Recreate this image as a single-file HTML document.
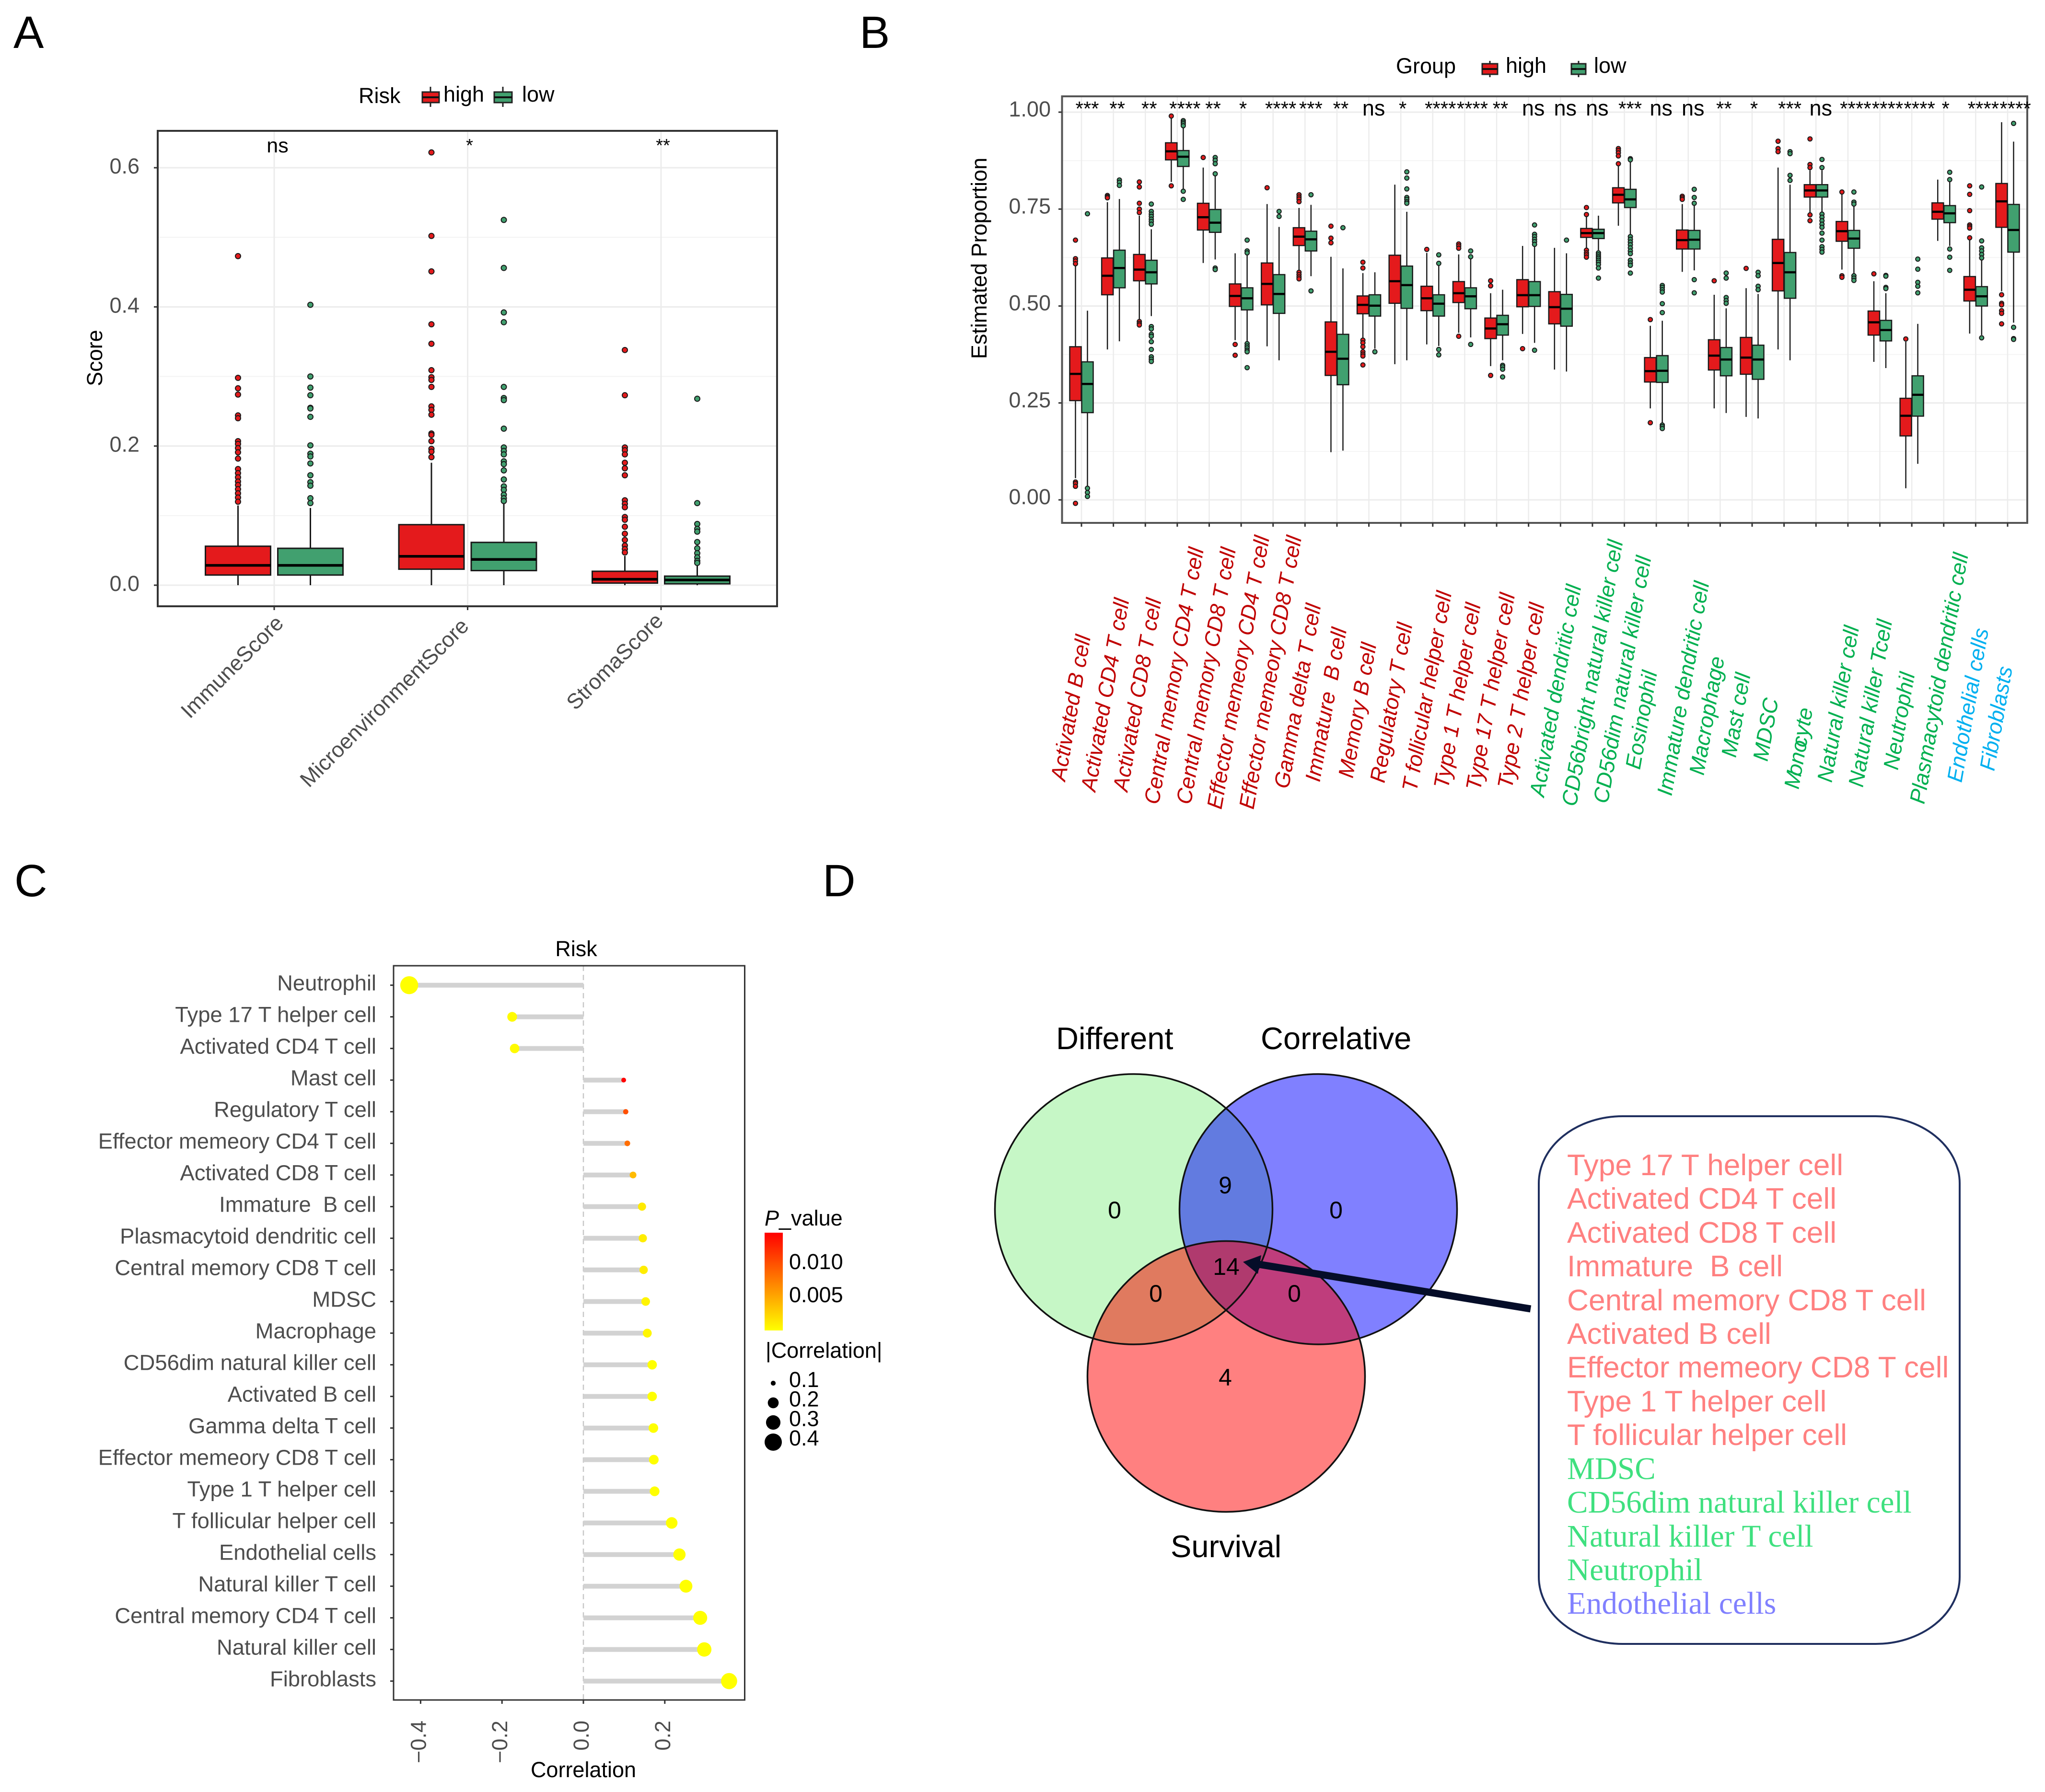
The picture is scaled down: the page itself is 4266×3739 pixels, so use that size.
<!DOCTYPE html>
<html lang="en">
<head>
<meta charset="utf-8">
<title>Immune infiltration figure</title>
<style>
html,body{margin:0;padding:0;background:#fff;}
svg{display:block;font-family:"Liberation Sans",Arial,sans-serif;}
text{white-space:pre;}
.tick{font-size:45px;fill:#4d4d4d;}
.ctick{font-size:45.4px;fill:#4d4d4d;}
.ttl{font-size:45px;fill:#000;}
.letter{font-size:95px;fill:#000;}
.lab{font-size:45px;font-style:italic;}
.r{fill:#c00000;}.g{fill:#00b050;}.b{fill:#00b0f0;}
.vn{font-size:65px;fill:#000;}
.vc{font-size:50px;fill:#000;text-anchor:middle;}
.ls{font-size:62.3px;fill:#ff8080;}
.lg{font-size:65.2px;fill:#3fe07f;font-family:"Liberation Serif",serif;}
.lb{font-size:65.2px;fill:#8080ff;font-family:"Liberation Serif",serif;}
</style>
</head>
<body>
<svg id="fig" xmlns="http://www.w3.org/2000/svg" width="4266" height="3739" viewBox="0 0 4266 3739">
<defs>
<linearGradient id="pgrad" x1="0" y1="1" x2="0" y2="0"><stop offset="0" stop-color="#ffff00"/><stop offset="1" stop-color="#ff0000"/></linearGradient>
<clipPath id="clipDiff"><ellipse cx="2365" cy="2523" rx="289.5" ry="282"/></clipPath>
<clipPath id="clipCorr"><ellipse cx="2750" cy="2523" rx="289.5" ry="282"/></clipPath>
</defs>
<rect width="4266" height="3739" fill="#fff"/>

<text class="letter" x="28" y="100">A</text>
<text class="letter" x="1793" y="100">B</text>
<text class="letter" x="30" y="1870">C</text>
<text class="letter" x="1716" y="1870">D</text>

<g id="panelA">
  <g id="aGrid"></g>
  <g id="aMarks"></g>
  <rect x="329" y="273" width="1292" height="992" fill="none" stroke="#333" stroke-width="4"/>
  <g id="aAxes"></g>
  <text class="ttl" transform="translate(213,747) rotate(-90)" text-anchor="middle">Score</text>
  <g>
    <text class="ttl" x="748" y="215">Risk</text>
    <line x1="898" y1="181" x2="898" y2="223" stroke="#222" stroke-width="3"/>
    <rect x="881" y="192" width="35" height="22" fill="#e41a1c" stroke="#222" stroke-width="3"/>
    <line x1="881" y1="203" x2="916" y2="203" stroke="#111" stroke-width="4"/>
    <text class="ttl" x="925" y="212">high</text>
    <line x1="1049" y1="181" x2="1049" y2="223" stroke="#222" stroke-width="3"/>
    <rect x="1031" y="192" width="37" height="22" fill="#41a06f" stroke="#222" stroke-width="3"/>
    <line x1="1031" y1="203" x2="1068" y2="203" stroke="#111" stroke-width="4"/>
    <text class="ttl" x="1089" y="212">low</text>
  </g>
</g>

<g id="panelB">
  <g id="bGrid"></g>
  <g id="bMarks"></g>
  <rect x="2215.5" y="201" width="2013.5" height="890" fill="none" stroke="#555" stroke-width="4"/>
  <g id="bAxes"></g>
  <text class="ttl" transform="translate(2058,539) rotate(-90)" text-anchor="middle">Estimated Proportion</text>
  <g>
    <text class="ttl" x="2912" y="153">Group</text>
    <line x1="3108" y1="127" x2="3108" y2="161" stroke="#222" stroke-width="3"/>
    <rect x="3092" y="133" width="32" height="22" fill="#e41a1c" stroke="#222" stroke-width="3"/>
    <line x1="3092" y1="144" x2="3124" y2="144" stroke="#111" stroke-width="4"/>
    <text class="ttl" x="3141" y="152">high</text>
    <line x1="3293" y1="127" x2="3293" y2="161" stroke="#222" stroke-width="3"/>
    <rect x="3278" y="133" width="30" height="22" fill="#41a06f" stroke="#222" stroke-width="3"/>
    <line x1="3278" y1="144" x2="3308" y2="144" stroke="#111" stroke-width="4"/>
    <text class="ttl" x="3325" y="152">low</text>
  </g>
  <g>
    <text class="lab r" transform="translate(2222,1631) rotate(-80)">Activated B cell</text>
    <text class="lab r" transform="translate(2285,1653) rotate(-80)">Activated CD4 T cell</text>
    <text class="lab r" transform="translate(2352,1653) rotate(-80)">Activated CD8 T cell</text>
    <text class="lab r" transform="translate(2417,1680) rotate(-80)">Central memory CD4 T cell</text>
    <text class="lab r" transform="translate(2484,1680) rotate(-80)">Central memory CD8 T cell</text>
    <text class="lab r" transform="translate(2548,1690) rotate(-80)">Effector memeory CD4 T cell</text>
    <text class="lab r" transform="translate(2615,1690) rotate(-80)">Effector memeory CD8 T cell</text>
    <text class="lab r" transform="translate(2688,1647) rotate(-80)">Gamma delta T cell</text>
    <text class="lab r" transform="translate(2753,1633) rotate(-80)">Immature  B cell</text>
    <text class="lab r" transform="translate(2822,1625) rotate(-80)">Memory B cell</text>
    <text class="lab r" transform="translate(2888,1635) rotate(-80)">Regulatory T cell</text>
    <text class="lab r" transform="translate(2955,1653) rotate(-80)">T follicular helper cell</text>
    <text class="lab r" transform="translate(3021,1647) rotate(-80)">Type 1 T helper cell</text>
    <text class="lab r" transform="translate(3088,1651) rotate(-80)">Type 17 T helper cell</text>
    <text class="lab r" transform="translate(3154,1647) rotate(-80)">Type 2 T helper cell</text>
    <text class="lab g" transform="translate(3221,1664) rotate(-80)">Activated dendritic cell</text>
    <text class="lab g" transform="translate(3288,1684) rotate(-80)">CD56bright natural killer cell</text>
    <text class="lab g" transform="translate(3354,1678) rotate(-80)">CD56dim natural killer cell</text>
    <text class="lab g" transform="translate(3421,1607) rotate(-80)">Eosinophil</text>
    <text class="lab g" transform="translate(3487,1662) rotate(-80)">Immature dendritic cell</text>
    <text class="lab g" transform="translate(3554,1619) rotate(-80)">Macrophage</text>
    <text class="lab g" transform="translate(3621,1582) rotate(-80)">Mast cell</text>
    <text class="lab g" transform="translate(3687,1590) rotate(-80)">MDSC</text>
    <text class="lab g" transform="translate(3752,1648) rotate(-80)">M<tspan dx="-10">ono</tspan><tspan dx="-14">cyte</tspan></text>
    <text class="lab g" transform="translate(3821,1634) rotate(-80)">Natural killer cell</text>
    <text class="lab g" transform="translate(3886,1644) rotate(-80)">Natural killer Tcell</text>
    <text class="lab g" transform="translate(3959,1608) rotate(-80)">Neutrophil</text>
    <text class="lab g" transform="translate(4014,1679) rotate(-80)">Plasmacytoid dendritic cell</text>
    <text class="lab b" transform="translate(4092,1634) rotate(-80)">Endothelial cells</text>
    <text class="lab b" transform="translate(4160,1610) rotate(-80)">Fibroblasts</text>
  </g>
</g>

<g id="panelC">
  <text class="ttl" x="1202" y="1995" text-anchor="middle">Risk</text>
  <g id="cMarks"></g>
  <rect x="821" y="2015" width="732.5" height="1532" fill="none" stroke="#333" stroke-width="3"/>
  <g id="cAxes"></g>
  <text class="ttl" x="1217" y="3708" text-anchor="middle">Correlation</text>
  <g>
    <text class="ttl" x="1595" y="2557"><tspan font-style="italic">P</tspan>_value</text>
    <rect x="1595" y="2572" width="38" height="204" fill="url(#pgrad)"/>
    <text class="ttl" x="1646" y="2648">0.010</text>
    <text class="ttl" x="1646" y="2717">0.005</text>
    <text class="ttl" x="1597" y="2833">|Correlation|</text>
    <g id="cSizeLegend"></g>
  </g>
</g>

<g id="panelD">
  <ellipse cx="2365" cy="2523" rx="289.5" ry="282" fill="#c6f7c6"/>
  <ellipse cx="2750" cy="2523" rx="289.5" ry="282" fill="#8080ff"/>
  <ellipse cx="2558" cy="2872" rx="289.5" ry="282.5" fill="#ff8080"/>
  <g clip-path="url(#clipDiff)"><ellipse cx="2750" cy="2523" rx="289.5" ry="282" fill="#627be0"/></g>
  <g clip-path="url(#clipDiff)"><ellipse cx="2558" cy="2872" rx="289.5" ry="282.5" fill="#e07a5f"/></g>
  <g clip-path="url(#clipCorr)"><ellipse cx="2558" cy="2872" rx="289.5" ry="282.5" fill="#bf3d7c"/></g>
  <g clip-path="url(#clipDiff)"><g clip-path="url(#clipCorr)"><ellipse cx="2558" cy="2872" rx="289.5" ry="282.5" fill="#b03a6e"/></g></g>
  <g fill="none" stroke="#111" stroke-width="3.5">
    <ellipse cx="2365" cy="2523" rx="289.5" ry="282"/>
    <ellipse cx="2750" cy="2523" rx="289.5" ry="282"/>
    <ellipse cx="2558" cy="2872" rx="289.5" ry="282.5"/>
  </g>
  <text class="vn" x="2203" y="2189">Different</text>
  <text class="vn" x="2630" y="2189">Correlative</text>
  <text class="vn" x="2442" y="3249">Survival</text>
  <text class="vc" x="2556" y="2490">9</text>
  <text class="vc" x="2325" y="2542">0</text>
  <text class="vc" x="2787" y="2542">0</text>
  <text class="vc" x="2558" y="2660">14</text>
  <text class="vc" x="2411" y="2716">0</text>
  <text class="vc" x="2700" y="2716">0</text>
  <text class="vc" x="2556" y="2891">4</text>
  <line x1="3193" y1="2731" x2="2620" y2="2637" stroke="#050d28" stroke-width="15"/>
  <polygon points="2593,2633 2624,2658 2631,2619" fill="#050d28"/>
  <rect x="3210" y="2329" width="878" height="1101" rx="175" ry="140" fill="#fff" stroke="#1f2f5f" stroke-width="4"/>
  <g>
    <text class="ls" x="3269" y="2452">Type 17 T helper cell</text>
    <text class="ls" x="3269" y="2522">Activated CD4 T cell</text>
    <text class="ls" x="3269" y="2593">Activated CD8 T cell</text>
    <text class="ls" x="3269" y="2663">Immature  B cell</text>
    <text class="ls" x="3269" y="2734">Central memory CD8 T cell</text>
    <text class="ls" x="3269" y="2804">Activated B cell</text>
    <text class="ls" x="3269" y="2874">Effector memeory CD8 T cell</text>
    <text class="ls" x="3269" y="2945">Type 1 T helper cell</text>
    <text class="ls" x="3269" y="3015">T follicular helper cell</text>
    <text class="lg" x="3269" y="3086">MDSC</text>
    <text class="lg" x="3269" y="3156">CD56dim natural killer cell</text>
    <text class="lg" x="3269" y="3227">Natural killer T cell</text>
    <text class="lg" x="3269" y="3297">Neutrophil</text>
    <text class="lb" x="3269" y="3367">Endothelial cells</text>
  </g>
</g>
</svg>

<script>
// ---------- Panel A data ----------
const aCategories = ['ImmuneScore','MicroenvironmentScore','StromaScore'];
const aYTicks = [0,0.2,0.4,0.6];
const aYMinor = [0.1,0.3,0.5];
const aSig = ['ns','*','**'];
const aHighQ1 = [0.0146,0.023,0.003];
const aHighMed = [0.0285,0.0415,0.0085];
const aHighQ3 = [0.056,0.087,0.020];
const aHighLo = [0,0,0];
const aHighHi = [0.1146,0.176,0.042];
const aLowQ1 = [0.0146,0.021,0.002];
const aLowMed = [0.0285,0.037,0.0075];
const aLowQ3 = [0.053,0.0615,0.013];
const aLowLo = [0,0,0];
const aLowHi = [0.111,0.118,0.030];
const aHighOut = [
 [.473,.298,.283,.274,.244,.24,.207,.203,.197,.191,.182,.167,.161,.155,.149,.144,.138,.132,.126,.12],
 [.622,.502,.451,.375,.347,.309,.299,.295,.285,.257,.252,.245,.218,.216,.207,.196,.192,.184],
 [.338,.273,.198,.194,.188,.176,.168,.158,.122,.117,.112,.098,.094,.084,.074,.065,.057,.052,.047]
];
const aLowOut = [
 [.403,.30,.284,.273,.255,.254,.242,.201,.189,.185,.175,.158,.148,.143,.125,.118],
 [.525,.456,.392,.378,.285,.269,.266,.225,.198,.193,.188,.178,.174,.165,.152,.142,.137,.13,.125,.121],
 [.268,.118,.088,.081,.077,.062,.053,.046,.04,.035,.032]
];

// ---------- Panel B data ----------
const bCategories = ['Activated B cell','Activated CD4 T cell','Activated CD8 T cell','Central memory CD4 T cell','Central memory CD8 T cell','Effector memeory CD4 T cell','Effector memeory CD8 T cell','Gamma delta T cell','Immature B cell','Memory B cell','Regulatory T cell','T follicular helper cell','Type 1 T helper cell','Type 17 T helper cell','Type 2 T helper cell','Activated dendritic cell','CD56bright natural killer cell','CD56dim natural killer cell','Eosinophil','Immature dendritic cell','Macrophage','Mast cell','MDSC','Monocyte','Natural killer cell','Natural killer Tcell','Neutrophil','Plasmacytoid dendritic cell','Endothelial cells','Fibroblasts'];
const bYTicks = [0,0.25,0.5,0.75,1];
const bYTickLabels = ['0.00','0.25','0.50','0.75','1.00'];
const bYMinor = [0.125,0.375,0.625,0.875];
const bSig = ['***','**','**','****','**','*','****','***','**','ns','*','****','****','**','ns','ns','ns','***','ns','ns','**','*','***','ns','****','****','****','*','****','****'];
const bHighQ1 = [.256,.529,.565,.877,.696,.499,.503,.656,.321,.480,.507,.488,.509,.416,.498,.454,.677,.766,.304,.647,.335,.324,.539,.781,.667,.425,.165,.724,.513,.703];
const bHighMed = [.325,.578,.594,.899,.729,.526,.557,.679,.382,.503,.564,.520,.533,.442,.528,.497,.688,.787,.332,.670,.372,.367,.611,.798,.693,.458,.217,.743,.542,.770];
const bHighQ3 = [.395,.624,.633,.921,.765,.557,.611,.702,.459,.526,.631,.551,.563,.469,.568,.537,.700,.805,.367,.696,.413,.419,.672,.813,.718,.487,.262,.766,.576,.816];
const bHighLo = [.056,.388,.464,.820,.611,.412,.396,.590,.123,.416,.350,.401,.431,.345,.428,.336,.646,.707,.236,.588,.236,.214,.388,.729,.594,.356,.030,.668,.429,.538];
const bHighHi = [.607,.768,.733,.984,.857,.636,.763,.753,.627,.585,.813,.637,.633,.533,.655,.650,.733,.863,.449,.763,.529,.546,.857,.850,.789,.564,.408,.826,.672,.974];
const bLowQ1 = [.225,.547,.557,.860,.690,.490,.481,.642,.297,.474,.494,.474,.493,.425,.499,.448,.674,.754,.303,.647,.320,.311,.520,.781,.649,.410,.216,.715,.500,.639];
const bLowMed = [.299,.598,.587,.885,.715,.520,.531,.672,.364,.501,.554,.506,.525,.453,.528,.493,.688,.775,.333,.671,.362,.362,.587,.798,.674,.438,.271,.739,.525,.696];
const bLowQ3 = [.356,.644,.618,.901,.749,.547,.581,.693,.427,.529,.603,.529,.547,.476,.563,.530,.698,.801,.372,.695,.393,.399,.638,.813,.695,.463,.320,.759,.550,.762];
const bLowLo = [.035,.409,.474,.802,.620,.408,.360,.577,.127,.390,.360,.397,.419,.360,.405,.331,.644,.681,.199,.592,.224,.210,.360,.743,.581,.340,.093,.655,.425,.457];
const bLowHi = [.488,.776,.698,.963,.837,.633,.704,.761,.597,.587,.743,.607,.622,.542,.655,.636,.733,.872,.462,.759,.494,.531,.813,.850,.763,.533,.454,.820,.620,.924];
const bHighOut = [
 [.670,.622,.616,.609,.046,.042,.035,-.009],
 [.785,.782,.779],
 [.820,.807,.765,.750,.741,.460,.455,.451],
 [.990,.810],
 [.883],
 [.401,.373],
 [.805],
 [.787,.781,.776,.769,.587,.581,.575,.570],
 [.706,.675,.663],
 [.613,.598,.412,.405,.395,.382,.376,.371,.348],
 [],
 [.646],
 [.660,.655,.649,.422],
 [.565,.552,.321],
 [.390],
 [],
 [.754,.736,.644,.637,.632,.626],
 [.906,.901,.895,.887,.867],
 [.465,.199],
 [.783,.779,.775],
 [.565],
 [.597],
 [.925,.906,.898],
 [.931,.865,.857,.735,.720],
 [.794,.578,.574],
 [.583],
 [.415],
 [],
 [.810,.788,.746,.709,.705,.701,.676],
 [.529,.507,.503,.488,.481,.454]
];
const bLowOut = [
 [.738,.030,.019,.009],
 [.825,.819,.811],
 [.763,.744,.737,.731,.724,.718,.711,.447,.441,.427,.422,.408,.388,.369,.363,.357],
 [.978,.974,.970,.965,.796,.775],
 [.883,.876,.867,.841,.598,.594],
 [.670,.642,.637,.403,.397,.392,.386,.382,.341],
 [.744,.731],
 [.787,.539],
 [.702],
 [.382],
 [.846,.830,.802,.780,.775,.769,.765],
 [.632,.610,.388,.374],
 [.642,.627,.401],
 [.347,.343,.337,.317],
 [.709,.685,.679,.672,.666,.659,.386],
 [.670],
 [.637,.632,.627,.623,.618,.613,.607,.598,.572],
 [.880,.877,.679,.672,.665,.658,.650,.642,.635,.618,.611,.605,.585],
 [.553,.548,.542,.536,.506,.483,.193,.189,.184],
 [.801,.780,.765,.568,.534],
 [.585,.572,.522,.514,.507],
 [.587,.578,.551,.542],
 [.898,.893,.837,.824],
 [.878,.857,.737,.729,.720,.711,.703,.688,.670,.653,.646,.639],
 [.794,.768,.763,.578,.572,.566],
 [.579,.577,.548,.545],
 [.621,.595,.561,.551,.534],
 [.845,.826,.647,.626,.592],
 [.807,.668,.650,.642,.633,.624,.418],
 [.971,.445,.416,.414]
];

// ---------- Panel C data ----------
const cCategories = ['Neutrophil','Type 17 T helper cell','Activated CD4 T cell','Mast cell','Regulatory T cell','Effector memeory CD4 T cell','Activated CD8 T cell','Immature  B cell','Plasmacytoid dendritic cell','Central memory CD8 T cell','MDSC','Macrophage','CD56dim natural killer cell','Activated B cell','Gamma delta T cell','Effector memeory CD8 T cell','Type 1 T helper cell','T follicular helper cell','Endothelial cells','Natural killer T cell','Central memory CD4 T cell','Natural killer cell','Fibroblasts'];
const cCorrelation = [-.428,-.175,-.169,.099,.104,.108,.122,.144,.146,.148,.153,.157,.169,.169,.172,.173,.175,.217,.236,.252,.287,.297,.358];
const cPValue = [0,.0002,.0002,.0143,.0098,.0082,.0038,.0012,.0010,.0010,.0006,.0005,0,0,0,0,0,0,0,0,0,0,0];
const cXTicks = [-0.4,-0.2,0,0.2];
const cXTickLabels = ['\u22120.4','\u22120.2','0.0','0.2'];
const cSizeLevels = [0.1,0.2,0.3,0.4];
const cSizeLabels = ['0.1','0.2','0.3','0.4'];

// ---------- helpers / axis functions ----------
const NS = 'http://www.w3.org/2000/svg';
function mk(parent, tag, attrs, text) {
  const el = document.createElementNS(NS, tag);
  for (const k in attrs) el.setAttribute(k, attrs[k]);
  if (text !== undefined) el.textContent = text;
  parent.appendChild(el);
  return el;
}
const COL_HIGH = '#e41a1c', COL_LOW = '#41a06f';
const xA = i => 572 + 403.5 * i;
const yA = v => 1221 - v * 1451.7;
const xB = i => 2256 + 66.62 * i;
const yB = v => 1043 - v * 809;
const xC = v => 1217 + v * 849;
const yC = i => 2055.6 + 66 * i;
const pColor = p => {
  const t = Math.max(0, Math.min(1, p / 0.0143));
  return 'rgb(255,' + Math.round(255 * (1 - t)) + ',0)';
};
const sizeC = v => 0.8 + 18 * Math.sqrt(Math.max(0, (Math.abs(v) - 0.08)) / 0.35);
// nudges for the rotated panel A category labels
const aLabelNudgeX = [0,-17,-15];
const aLabelNudgeY = [0,6,-5];

function drawBox(layer, cx, w, q1, med, q3, lo, hi, outs, color, yFn, sw, medW, ptR, prefix) {
  const wh = mk(layer, 'line', {x1:cx, x2:cx, y1:yFn(lo), y2:yFn(hi), stroke:'#1a1a1a', 'stroke-width':sw});
  
  
  const box = mk(layer, 'rect', {x:cx - w/2, y:yFn(q3), width:w, height:yFn(q1) - yFn(q3), fill:color, stroke:'#1a1a1a', 'stroke-width':sw});
  
  
  const m = mk(layer, 'line', {x1:cx - w/2, x2:cx + w/2, y1:yFn(med), y2:yFn(med), stroke:'#000', 'stroke-width':medW});
  
  
  outs.forEach(o => {
    const c = mk(layer, 'circle', {cx:cx, cy:yFn(o), r:ptR, fill:color, stroke:'#1a1a1a', 'stroke-width':2});
    
    
  });
}

// ---------- Panel A ----------
(function () {
  const grid = document.getElementById('aGrid');
  const marks = document.getElementById('aMarks');
  const axes = document.getElementById('aAxes');
  aYMinor.forEach(v => {
    const g = mk(grid, 'line', {x1:329, x2:1621, y1:yA(v), y2:yA(v), stroke:'#f3f3f3', 'stroke-width':2});
    
    
  });
  aYTicks.forEach(v => {
    const g = mk(grid, 'line', {x1:329, x2:1621, y1:yA(v), y2:yA(v), stroke:'#ececec', 'stroke-width':3});
    
    
    const t = mk(axes, 'line', {x1:321, x2:329, y1:yA(v), y2:yA(v), stroke:'#333', 'stroke-width':3});
    
    
    const l = mk(axes, 'text', {x:291, y:yA(v) + 12, 'text-anchor':'end', class:'tick'}, v.toFixed(1));
    
    
  });
  aCategories.forEach((c, i) => {
    const x = xA(i);
    const g = mk(grid, 'line', {x1:x, x2:x, y1:273, y2:1265, stroke:'#ececec', 'stroke-width':3});
    
    
    drawBox(marks, x - 75.5, 136, aHighQ1[i], aHighMed[i], aHighQ3[i], aHighLo[i], aHighHi[i], aHighOut[i], COL_HIGH, yA, 3, 5.5, 5.5, 'high-' + c);
    drawBox(marks, x + 75.5, 136, aLowQ1[i], aLowMed[i], aLowQ3[i], aLowLo[i], aLowHi[i], aLowOut[i], COL_LOW, yA, 3, 5.5, 5.5, 'low-' + c);
    const t = mk(axes, 'line', {x1:x, x2:x, y1:1265, y2:1273, stroke:'#333', 'stroke-width':3});
    
    
    const l = mk(axes, 'text', {transform:'translate(' + (x + 22 + aLabelNudgeX[i]) + ',' + (1303 + aLabelNudgeY[i]) + ') rotate(-45)', 'text-anchor':'end', class:'tick'}, c);
    
    
    const isNs = aSig[i] === 'ns';
    const s = mk(axes, 'text', {x:x + (isNs ? 7 : 4), y:isNs ? 318 : 316, 'text-anchor':'middle', 'font-size':isNs ? 43 : 38, fill:'#000'}, aSig[i]);
    
    
  });
})();

// ---------- Panel B ----------
(function () {
  const grid = document.getElementById('bGrid');
  const marks = document.getElementById('bMarks');
  const axes = document.getElementById('bAxes');
  bYMinor.forEach(v => {
    const g = mk(grid, 'line', {x1:2215, x2:4229, y1:yB(v), y2:yB(v), stroke:'#f4f4f4', 'stroke-width':2});
    
    
  });
  bYTicks.forEach((v, i) => {
    const g = mk(grid, 'line', {x1:2215, x2:4229, y1:yB(v), y2:yB(v), stroke:'#ececec', 'stroke-width':3});
    
    
    const t = mk(axes, 'line', {x1:2208, x2:2215, y1:yB(v), y2:yB(v), stroke:'#333', 'stroke-width':3});
    
    
    const l = mk(axes, 'text', {x:2192, y:yB(v) + 9, 'text-anchor':'end', class:'tick'}, bYTickLabels[i]);
    
    
  });
  bCategories.forEach((c, i) => {
    const x = xB(i);
    const g = mk(grid, 'line', {x1:x, x2:x, y1:201, y2:1091, stroke:'#ececec', 'stroke-width':2.5});
    
    
    drawBox(marks, x - 12.5, 24, bHighQ1[i], bHighMed[i], bHighQ3[i], bHighLo[i], bHighHi[i], bHighOut[i], COL_HIGH, yB, 2.5, 4.5, 4.5, 'high-' + c);
    drawBox(marks, x + 12.5, 24, bLowQ1[i], bLowMed[i], bLowQ3[i], bLowLo[i], bLowHi[i], bLowOut[i], COL_LOW, yB, 2.5, 4.5, 4.5, 'low-' + c);
    const t = mk(axes, 'line', {x1:x, x2:x, y1:1091, y2:1099, stroke:'#333', 'stroke-width':3});
    
    
    const isNs = bSig[i] === 'ns';
    const s = mk(axes, 'text', {x:x + (isNs ? 10 : bSig[i].length * 4), y:241, 'text-anchor':'middle', 'font-size':isNs ? 45 : 42, fill:'#000'}, bSig[i]);
    
    
  });
})();

// ---------- Panel C ----------
(function () {
  const marks = document.getElementById('cMarks');
  const axes = document.getElementById('cAxes');
  const size = document.getElementById('cSizeLegend');
  const zero = mk(marks, 'line', {x1:xC(0), x2:xC(0), y1:2015, y2:3547, stroke:'#c8c8c8', 'stroke-width':2.5, 'stroke-dasharray':'11 8'});
  
  
  cCategories.forEach((c, i) => {
    const y = yC(i);
    const seg = mk(marks, 'line', {x1:xC(0), x2:xC(cCorrelation[i]), y1:y, y2:y, stroke:'#d2d2d2', 'stroke-width':10});
    
    
    const dot = mk(marks, 'circle', {cx:xC(cCorrelation[i]), cy:y, r:sizeC(cCorrelation[i]), fill:pColor(cPValue[i])});
    
    
    const t = mk(axes, 'line', {x1:814, x2:821, y1:y, y2:y, stroke:'#333', 'stroke-width':3});
    
    
    const l = mk(axes, 'text', {x:785, y:y + 11, 'text-anchor':'end', class:'ctick'}, c);
    
    
  });
  cXTicks.forEach((v, i) => {
    const x = xC(v);
    const t = mk(axes, 'line', {x1:x, x2:x, y1:3547, y2:3555, stroke:'#333', 'stroke-width':3});
    
    
    const l = mk(axes, 'text', {transform:'translate(' + (x + 11) + ',3590) rotate(-90)', 'text-anchor':'end', class:'tick'}, cXTickLabels[i]);
    
    
  });
  cSizeLevels.forEach((v, i) => {
    const cy = 2886 + 41 * i;
    const d = mk(size, 'circle', {cx:1613, cy:cy, r:sizeC(v), fill:'#000'});
    
    
    const l = mk(size, 'text', {x:1646, y:2894 + 40.7 * i, class:'ttl'}, cSizeLabels[i]);
    
    
  });
})();
</script>
</body>
</html>
